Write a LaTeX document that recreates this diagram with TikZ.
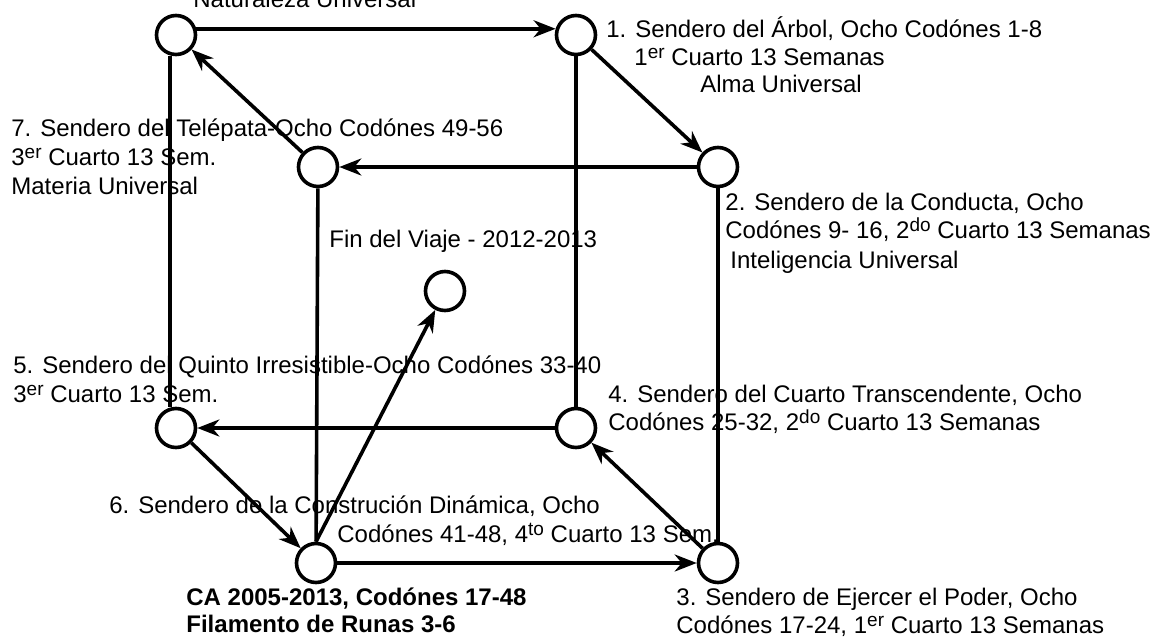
\documentclass[tikz,border=0pt]{standalone}
\usepackage{fontspec}
\setmainfont{Liberation Sans}
\usepackage{tikz}
\usetikzlibrary{arrows.meta}

\newcommand\ordsup[1]{\raisebox{3.5pt}{\fontsize{9.5pt}{9.5pt}\selectfont #1}}

\begin{document}
\begin{tikzpicture}[x=0.5pt, y=-0.5pt,
    dot/.style={circle, draw, line width=1.8pt, fill=white, minimum size=19.5pt, inner sep=0pt},
    lbl/.style={anchor=base west, inner sep=0pt, font=\fontsize{12pt}{14.5pt}\selectfont},
    boldlbl/.style={lbl, font=\fontsize{12pt}{14.5pt}\selectfont\bfseries},
    edge/.style={line width=1.8pt},
    arr/.style={edge, -{Stealth[length=11pt, width=8.5pt, inset=3.5pt]}}]
				\useasboundingbox (0,0) rectangle (1168,637);
				
				% Labels
				\node[lbl] (natL) at (193,7) {Naturaleza Universal};
				\node[lbl] (s1a) at (606,37) {1. Sendero del Árbol, Ocho Codónes 1-8};
				\node[lbl] (s1b) at (634,65) {1\ordsup{er} Cuarto 13 Semanas};
				\node[lbl] (s1c) at (700,92) {Alma Universal};
				\node[lbl] (s7a) at (11,136) {7. Sendero del Telépata-Ocho Codónes 49-56};
				\node[lbl] (s7b) at (11,165) {3\ordsup{er} Cuarto 13 Sem.};
				\node[lbl] (s7c) at (11,194) {Materia Universal};
				\node[lbl] (s2a) at (725,210) {2. Sendero de la Conducta, Ocho};
				\node[lbl] (s2b) at (725,238) {Codónes 9- 16, 2\ordsup{do} Cuarto 13 Semanas};
				\node[lbl] (s2c) at (730,268) {Inteligencia Universal};
				\node[lbl] (finL) at (329,247) {Fin del Viaje - 2012-2013};
				\node[lbl] (s5a) at (13,373) {5. Sendero del Quinto Irresistible-Ocho Codónes 33-40};
				\node[lbl] (s5b) at (13,402) {3\ordsup{er} Cuarto 13 Sem.};
				\node[lbl] (s4a) at (608,402) {4. Sendero del Cuarto Transcendente, Ocho};
				\node[lbl] (s4b) at (608,430) {Codónes 25-32, 2\ordsup{do} Cuarto 13 Semanas};
				\node[lbl] (s6a) at (109,513) {6. Sendero de la Construción Dinámica, Ocho};
				\node[lbl] (s6b) at (337,542) {Codónes 41-48, 4\ordsup{to} Cuarto 13 Sem.};
				\node[boldlbl] (caA) at (186,605) {CA 2005-2013, Codónes 17-48};
				\node[boldlbl] (caB) at (186,632) {Filamento de Runas 3-6};
				\node[lbl] (s3a) at (676,605) {3. Sendero de Ejercer el Poder, Ocho};
				\node[lbl] (s3b) at (676,633) {Codónes 17-24, 1\ordsup{er} Cuarto 13 Semanas};
				
				% Circles
				\node[dot] (natU) at (176,35) {};
				\node[dot] (tree) at (576,35) {};
				\node[dot] (cond) at (718,167) {};
				\node[dot] (tele) at (318,167) {};
				\node[dot] (fin) at (445,291) {};
				\node[dot] (quin) at (176,428) {};
				\node[dot] (trans) at (576,428) {};
				\node[dot] (cons) at (316,563) {};
				\node[dot] (pow) at (718,563) {};
				
				% Upper square
				\draw[arr] (natU.17) -- (tree.163);
				\draw[arr] (tree) -- (cond);
				\draw[arr] (cond) -- (tele);
				\draw[arr] (tele) -- (natU);
				
				% Verticals
				\draw[edge] ([xshift=-3pt]natU.south) -- ([xshift=-3pt]quin.north);
				\draw[edge] (tree) -- (trans);
				\draw[edge] (tele) -- (cons);
				\draw[edge] (cond) -- (pow);
				
				% Lower square
				\draw[arr] (trans) -- (quin);
				\draw[arr] (quin) -- (cons);
				\draw[arr] (cons) -- (pow);
				\draw[arr] (pow) -- (trans);
				
				% To the end of the journey
				\draw[arr] (cons.north) -- (fin);
				
			\end{tikzpicture}
\end{document}
